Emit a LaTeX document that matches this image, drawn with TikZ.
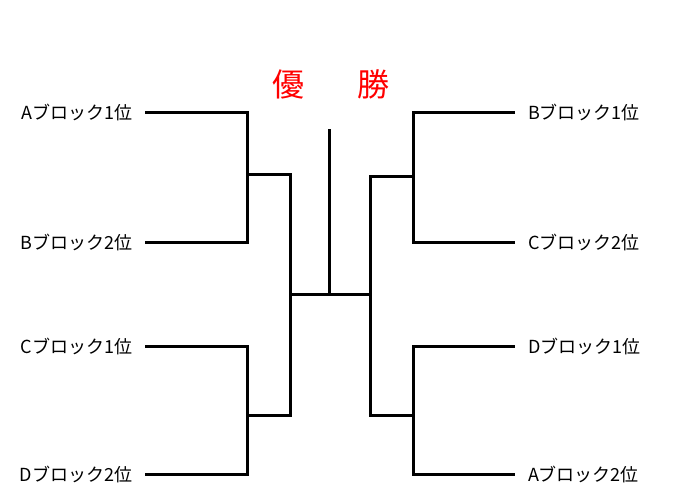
\documentclass[tikz,border=0pt]{standalone}
\usepackage{fontspec}
\setmainfont{Noto Sans CJK JP}
\usepackage{tikz}
\usetikzlibrary{positioning}
\usepackage{xcolor}
\tikzset{
  bracket/.style={draw, line width=3pt, line cap=rect},
  lablft/.style={anchor=east, inner sep=0pt, outer sep=0pt, font=\fontsize{18}{18}\selectfont},
  labrgt/.style={anchor=west, inner sep=0pt, outer sep=0pt, font=\fontsize{18}{18}\selectfont},
  title/.style={text=red, inner sep=0pt, font=\fontsize{32}{32}\selectfont}
}
\begin{document}
\begin{tikzpicture}[x=1pt,y=-1pt]
\useasboundingbox (0,0) rectangle (694,491);

% Title
\node[title] (yu) at (288,84) {優};
\node[title] (sho) at (373,84) {勝};

% Left entries
\node[lablft] (a1) at (132,112) {Aブロック1位};
\node[lablft] (b2) at (132,242) {Bブロック2位};
\node[lablft] (c1) at (132,346) {Cブロック1位};
\node[lablft] (d2) at (132,474) {Dブロック2位};

% Right entries
\node[labrgt] (b1) at (528,112) {Bブロック1位};
\node[labrgt] (c2) at (528,242) {Cブロック2位};
\node[labrgt] (d1) at (528,346) {Dブロック1位};
\node[labrgt] (a2) at (528,474) {Aブロック2位};

% Junctions
\coordinate (ml1) at (247,174);
\coordinate (ml2) at (247,415);
\coordinate (mr1) at (413,176);
\coordinate (mr2) at (413,415);
\coordinate (fl) at (290,294);
\coordinate (fr) at (370,294);
\coordinate (fm) at (329,294);
\coordinate (top) at (329,130);

% First round
\draw[bracket] ([xshift=14pt]a1.east) -| (ml1) |- ([xshift=14pt]b2.east);
\draw[bracket] ([xshift=14pt]c1.east) -| (ml2) |- ([xshift=14pt]d2.east);
\draw[bracket] ([xshift=-15pt]b1.west) -| (mr1) |- ([xshift=-15pt]c2.west);
\draw[bracket] ([xshift=-15pt]d1.west) -| (mr2) |- ([xshift=-15pt]a2.west);

% Semi final
\draw[bracket] (ml1) -| (fl) |- (ml2);
\draw[bracket] (mr1) -| (fr) |- (mr2);

% Final
\draw[bracket] (fl) -- (fr);
\draw[bracket] (fm) -- (top);
\end{tikzpicture}
\end{document}
